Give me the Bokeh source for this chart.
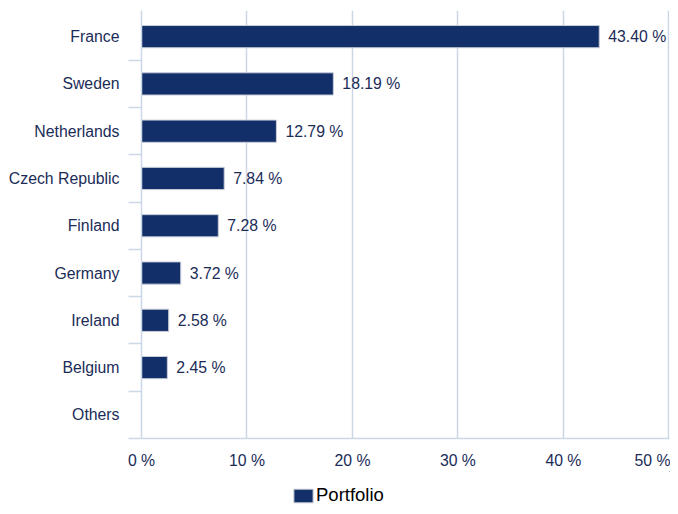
from bokeh.plotting import figure
from bokeh.layouts import column
from bokeh.models import (Range1d, FixedTicker, ColumnDataSource, Legend, LegendItem)
from bokeh.embed import file_html
from bokeh.resources import INLINE
from bokeh.core.properties import value

countries = ["France", "Sweden", "Netherlands", "Czech Republic", "Finland",
             "Germany", "Ireland", "Belgium", "Others"]
weights = [43.40, 18.19, 12.79, 7.84, 7.28, 3.72, 2.58, 2.45, None]
x_ticks = [0, 10, 20, 30, 40, 50]
x_tick_labels = ["0 %", "10 %", "20 %", "30 %", "40 %", "50 %"]
series_name = "Portfolio"

NAVY = "#132f69"
TEXT = "#1b2c57"
GRID = "#ccd7e6"
FONT = "Liberation Sans"
FS = "15.8px"

n = len(countries)
pos = [n - 1 - i for i in range(n)]  # France at top

bar_y = [pos[i] for i in range(n) if weights[i] is not None]
bar_v = [weights[i] for i in range(n) if weights[i] is not None]
bar_lbl = ["%.2f %%" % w for w in bar_v]
src = ColumnDataSource(dict(y=bar_y, v=bar_v, lbl=bar_lbl))

y0, y1 = -0.5, n - 0.5 + 0.053
p = figure(width=670, height=471, output_backend="svg", toolbar_location=None,
           x_range=Range1d(0, x_ticks[-1] + 0.06), y_range=Range1d(y0, y1),
           min_border_left=141, min_border_right=1, min_border_top=10,
           min_border_bottom=31)
p.outline_line_color = None

bar_style = dict(fill_color=NAVY, line_color="#c9ced8", line_width=1)
p.hbar(y="y", left=0, right="v", height=0.47, source=src, **bar_style)
p.text(x="v", y="y", text="lbl", source=src, x_offset=9,
       text_baseline="middle", text_align="left",
       text_font=value(FONT), text_font_size=FS, text_color=TEXT)

# x axis
p.xaxis.ticker = FixedTicker(ticks=x_ticks)
p.xaxis.major_label_overrides = {t: l for t, l in zip(x_ticks, x_tick_labels)}
p.xaxis.major_label_text_font = FONT
p.xaxis.major_label_text_font_size = FS
p.xaxis.major_label_text_color = TEXT
p.xaxis.major_label_standoff = 13
p.xaxis.major_tick_out = 0
p.xaxis.major_tick_in = 0
p.xaxis.minor_tick_out = 0
p.xaxis.minor_tick_in = 0
p.xaxis.axis_line_color = GRID
p.xaxis.axis_line_width = 1.5

# y axis: labels at centres, ticks at category boundaries
p.yaxis.ticker = FixedTicker(ticks=pos, minor_ticks=[v - 0.5 for v in range(n)])
p.yaxis.major_label_overrides = {pos[i]: countries[i] for i in range(n)}
p.yaxis.major_label_text_font = FONT
p.yaxis.major_label_text_font_size = FS
p.yaxis.major_label_text_color = TEXT
p.yaxis.major_label_standoff = 9
p.yaxis.major_tick_out = 0
p.yaxis.major_tick_in = 0
p.yaxis.minor_tick_out = 13
p.yaxis.minor_tick_in = 0
p.yaxis.minor_tick_line_color = GRID
p.yaxis.minor_tick_line_width = 1.5
p.yaxis.axis_line_color = GRID
p.yaxis.axis_line_width = 1.5

p.ygrid.grid_line_color = None
p.xgrid.grid_line_color = GRID
p.xgrid.grid_line_width = 1.5

# legend strip (swatch renderer kept outside its visible range)
q = figure(width=670, height=35, output_backend="svg", toolbar_location=None,
           x_range=Range1d(-20, -10), y_range=Range1d(-20, -10),
           x_axis_location=None, y_axis_location=None,
           min_border_left=141, min_border_right=1, min_border_top=0, min_border_bottom=0)
q.outline_line_color = None
q.xgrid.grid_line_color = None
q.ygrid.grid_line_color = None
swatch = q.hbar(y="y", left=0, right="v", height=0.47, source=src, **bar_style)
legend = Legend(items=[LegendItem(label=series_name, renderers=[swatch])],
                location=(150, 0), orientation="horizontal",
                glyph_width=24, glyph_height=17, label_standoff=1,
                padding=0, margin=0, border_line_color=None,
                background_fill_alpha=0,
                label_text_font=FONT, label_text_font_size="18.5px",
                label_text_color="black", label_text_baseline="middle")
q.add_layout(legend, "center")

layout = column(p, q, spacing=0)
open("out.html", "w").write(file_html(layout, INLINE))
